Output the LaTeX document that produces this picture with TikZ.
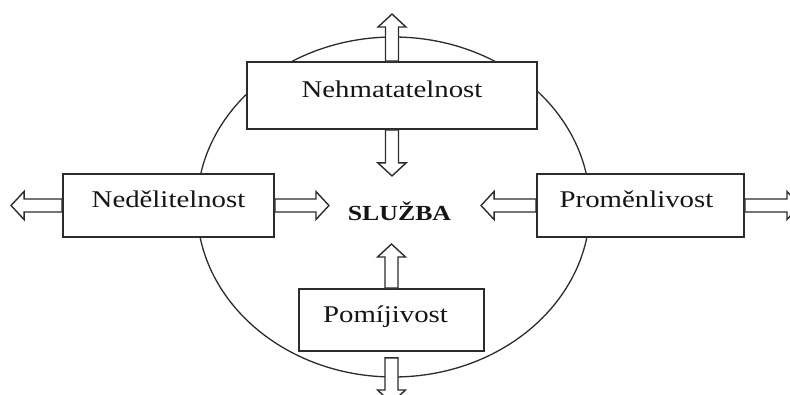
\documentclass[tikz,border=0pt]{standalone}
\usepackage{fontspec}
\setmainfont{Liberation Serif}[FakeStretch=1.2]
\usetikzlibrary{calc}

\definecolor{inkline}{HTML}{2C2C2C}
\definecolor{inktext}{HTML}{151515}

% hollow block arrow: #1 start point, #2 direction angle, #3 length
\newcommand{\hollowarrow}[3]{%
  \begin{scope}[shift={(#1)}, rotate=#2]
    \draw[arrowline] (0,-6.5) -- ({#3-13},-6.5) -- ({#3-13},-14) -- (#3,0)
      -- ({#3-13},14) -- ({#3-13},6.5) -- (0,6.5) -- cycle;
  \end{scope}}

\tikzset{
  box/.style={draw=inkline, line width=1.9pt, fill=white, inner sep=0pt,
    text=inktext, font=\fontsize{24}{28}\selectfont,
    text height=14pt, text depth=9pt},
  arrowline/.style={draw=inkline, line width=1.4pt, fill=white, line join=miter},
  ring/.style={draw=inkline, line width=1.3pt},
}

\begin{document}
\begin{tikzpicture}[x=1pt, y=-1pt]
  \useasboundingbox (0,0) rectangle (790,395);
  \clip (0,0) rectangle (790,395);
  \fill[white] (0,0) rectangle (790,395);

  % the ring around the service
  \coordinate (hub) at (393.5,207);
  \draw[ring] (hub) ellipse [x radius=196.5pt, y radius=170pt];

  % the four characteristics
  \node[box, minimum width=290pt, minimum height=67pt] (top) at (392,95.5) {Nehmatatelnost};
  \node[box, minimum width=211pt, minimum height=63pt] (left) at (168.5,205.5) {Nedělitelnost};
  \node[box, minimum width=207pt, minimum height=63pt] (right) at (640.5,205.5) {Proměnlivost\kern8pt};
  \node[box, minimum width=185pt, minimum height=62pt] (bottom) at (391.5,320) {Pomíjivost\kern12pt};

  % centre label
  \node[anchor=base, text=inktext, font=\fontsize{21.5}{24}\selectfont\bfseries] (service) at (399.5,221) {SLUŽBA};

  % arrows
  \hollowarrow{top.north}{90}{47}
  \hollowarrow{top.south}{-90}{46}
  \hollowarrow{left.west}{180}{51}
  \hollowarrow{left.east}{0}{54}
  \hollowarrow{right.west}{180}{55}
  \hollowarrow{right.east}{0}{55}
  \hollowarrow{bottom.north}{90}{44}
  \coordinate (below) at ([yshift=-6pt]bottom.south);
  \hollowarrow{below}{-90}{45}
\end{tikzpicture}
\end{document}
